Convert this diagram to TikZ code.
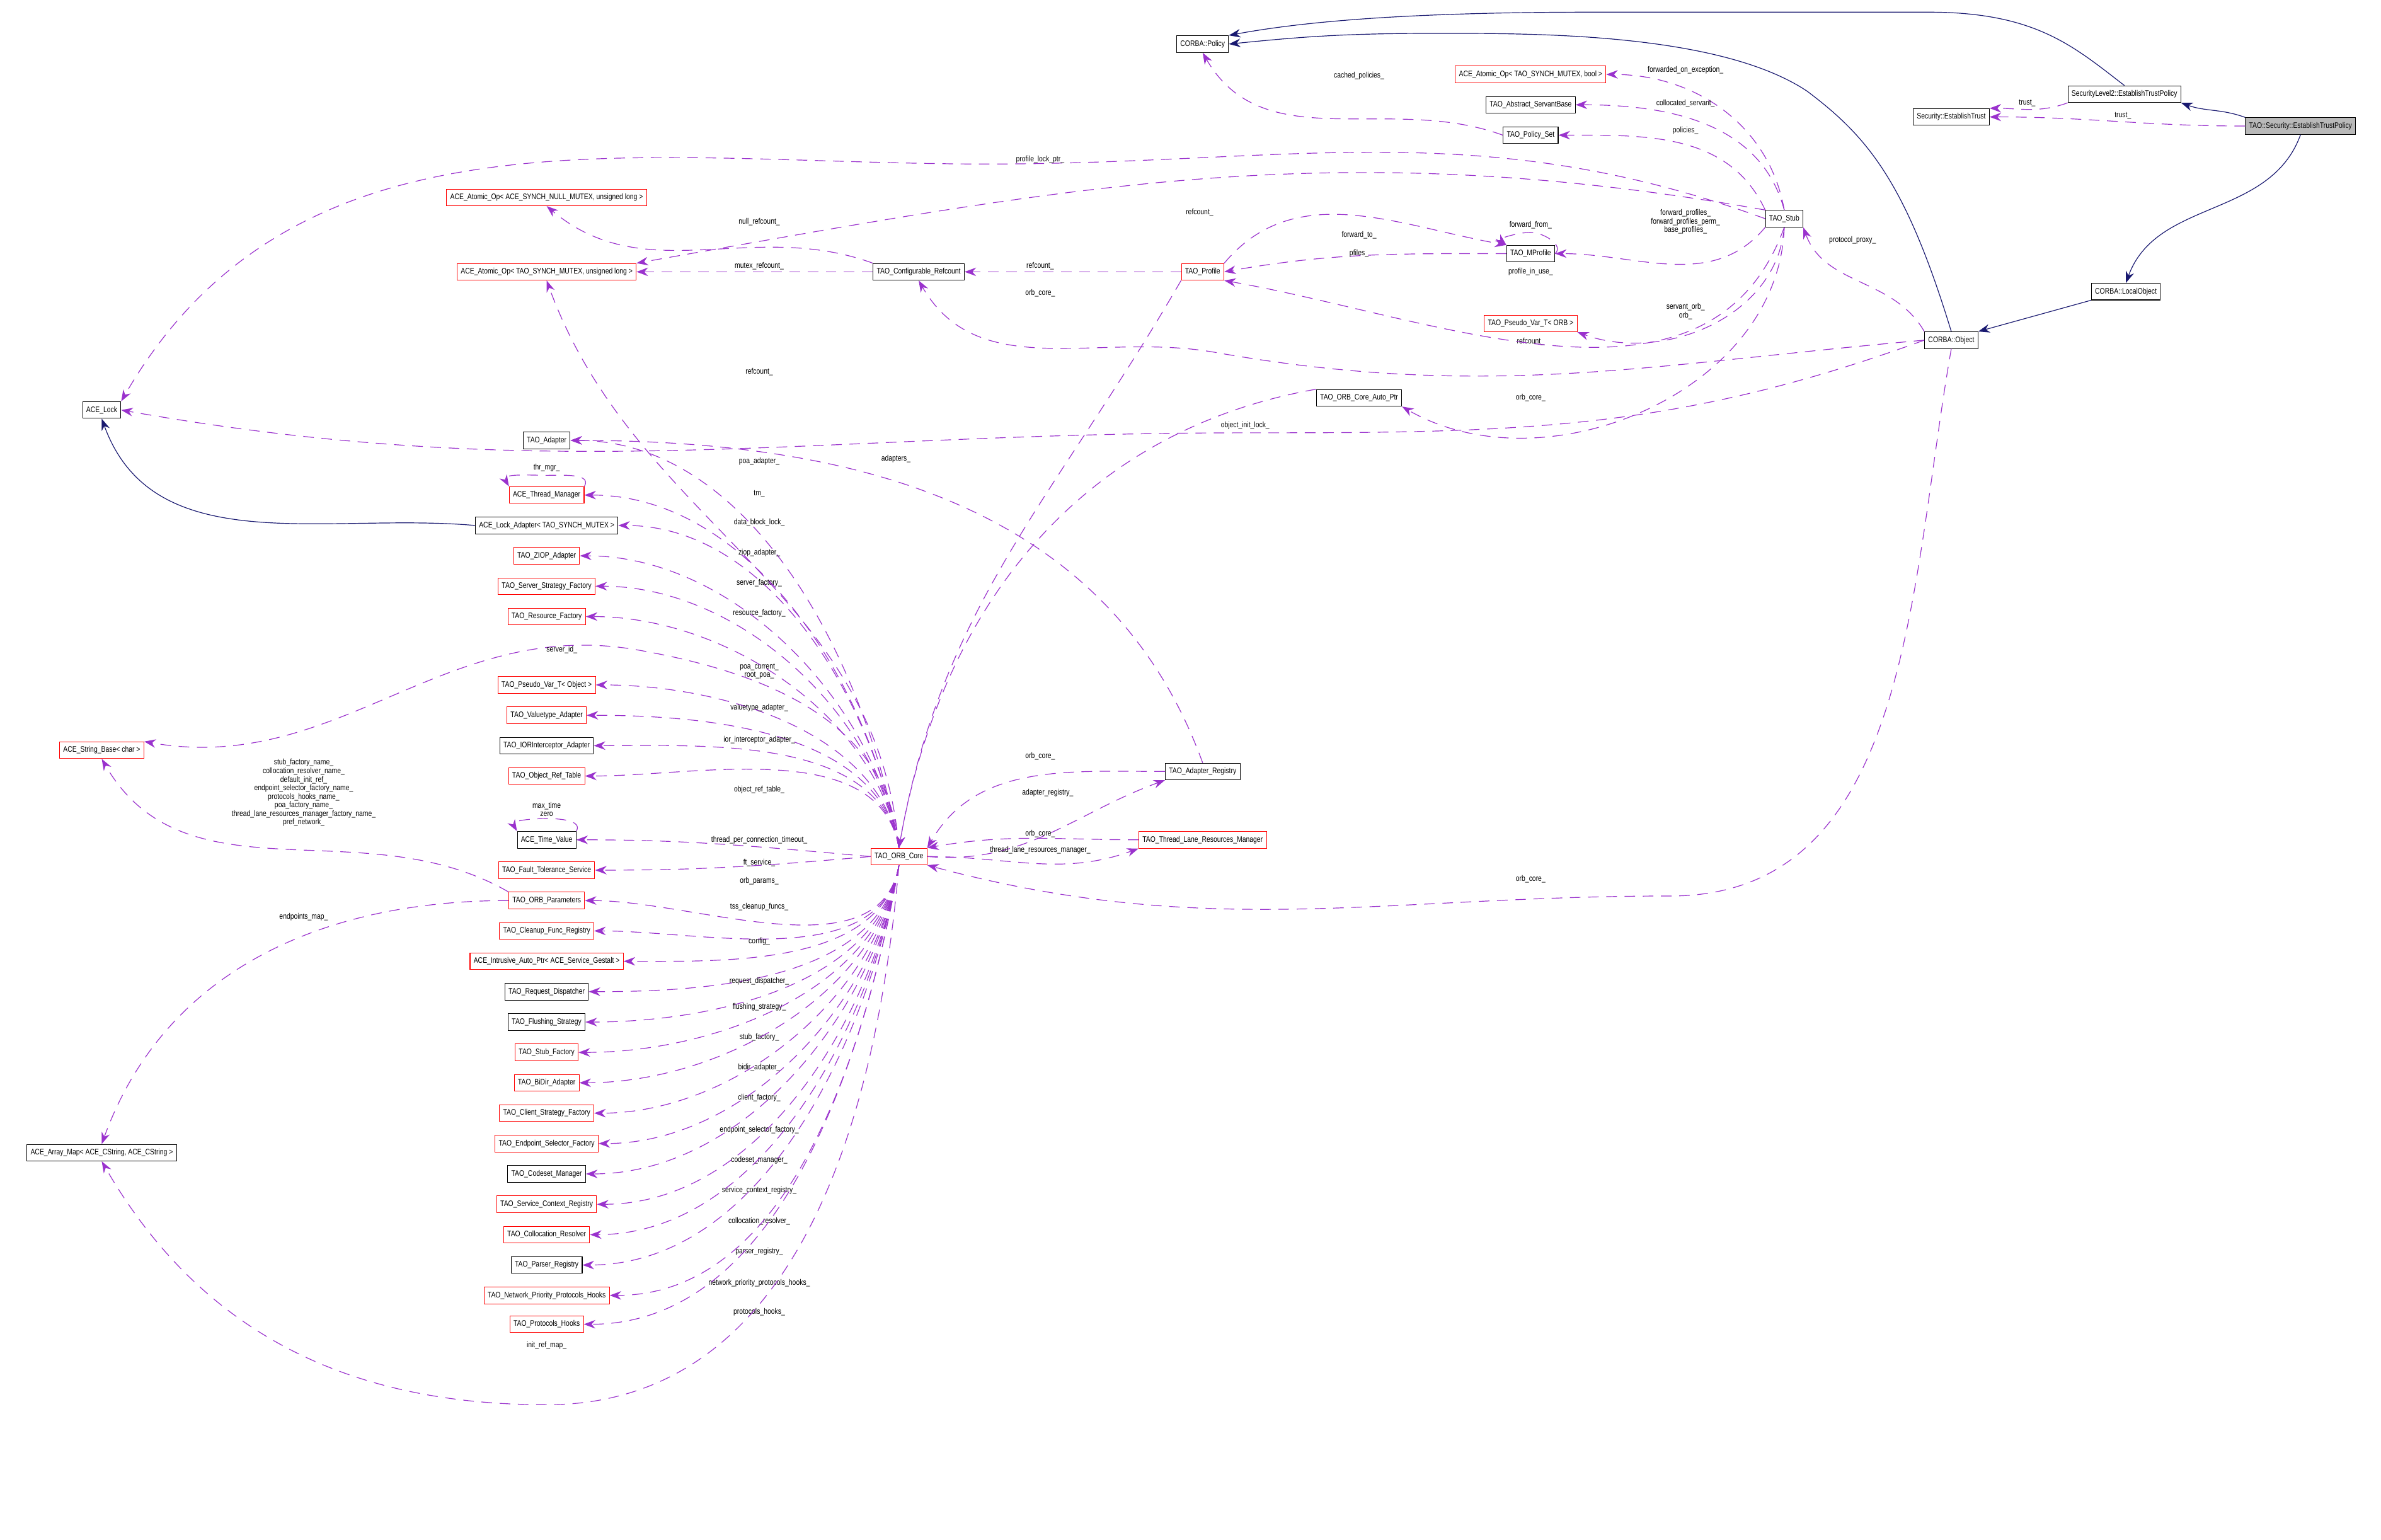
\documentclass[tikz,border=0pt]{standalone}
\usepackage{fontspec}
\setmainfont[FakeStretch=0.82]{Liberation Sans}
\usetikzlibrary{arrows.meta}
\definecolor{edgepurple}{HTML}{9A32CD}
\definecolor{inhblue}{HTML}{191970}
\tikzset{
  cls/.style={draw, line width=0.3pt, fill=white, minimum height=0.275cm, inner xsep=0.06cm, inner ysep=0.03cm, font=\fontsize{3.75}{4}\selectfont},
  redcls/.style={cls, draw=red},
  focuscls/.style={cls, fill=gray!55},
  member/.style={draw=edgepurple, dash pattern=on 0.175cm off 0.125cm, line width=0.35pt, -{Stealth[length=0.19cm,width=0.14cm]}},
  inherit/.style={draw=inhblue, line width=0.35pt, -{Stealth[length=0.19cm,width=0.14cm]}},
  lbl/.style={font=\fontsize{3.75}{4}\selectfont, align=center, inner sep=0.3pt},
}
\begin{document}
\begin{tikzpicture}[x=0.025cm,y=-0.025cm]
    \useasboundingbox (0,0) rectangle (1568,1014);

    % right part
    \node[cls] (policy) at (792,29) {CORBA::Policy};
    \node[redcls] (atomicbool) at (1008,49) {ACE\_Atomic\_Op< TAO\_SYNCH\_MUTEX, bool >};
    \node[cls] (servantbase) at (1008,69) {TAO\_Abstract\_ServantBase};
    \node[cls] (policyset) at (1008,89) {TAO\_Policy\_Set};
    \node[cls] (sl2trust) at (1399,62) {SecurityLevel2::EstablishTrustPolicy};
    \node[cls] (sectrust) at (1285,77) {Security::EstablishTrust};
    \node[focuscls] (taotrust) at (1515,83) {TAO::Security::EstablishTrustPolicy};
    \node[cls] (stub) at (1175,144) {TAO\_Stub};
    \node[cls] (mprofile) at (1008,167) {TAO\_MProfile};
    \node[redcls] (profile) at (792,179) {TAO\_Profile};
    \node[cls] (confref) at (605,179) {TAO\_Configurable\_Refcount};
    \node[redcls] (atomicnull) at (360,130) {ACE\_Atomic\_Op< ACE\_SYNCH\_NULL\_MUTEX, unsigned long >};
    \node[redcls] (atomiculong) at (360,179) {ACE\_Atomic\_Op< TAO\_SYNCH\_MUTEX, unsigned long >};
    \node[cls] (localobj) at (1400,192) {CORBA::LocalObject};
    \node[cls] (object) at (1285,224) {CORBA::Object};
    \node[redcls] (varorb) at (1008,213) {TAO\_Pseudo\_Var\_T< ORB >};
    \node[cls] (autoptr) at (895,262) {TAO\_ORB\_Core\_Auto\_Ptr};
    \node[cls] (acelock) at (67,270) {ACE\_Lock};

    % left column
    \node[cls] (adapter) at (360,290) {TAO\_Adapter};
    \node[redcls] (thrmgr) at (360,326) {ACE\_Thread\_Manager};
    \node[cls] (lockadapter) at (360,346) {ACE\_Lock\_Adapter< TAO\_SYNCH\_MUTEX >};
    \node[redcls] (ziop) at (360,366) {TAO\_ZIOP\_Adapter};
    \node[redcls] (serverfac) at (360,386) {TAO\_Server\_Strategy\_Factory};
    \node[redcls] (resfac) at (360,406) {TAO\_Resource\_Factory};
    \node[redcls] (varobj) at (360,451) {TAO\_Pseudo\_Var\_T< Object >};
    \node[redcls] (valuetype) at (360,471) {TAO\_Valuetype\_Adapter};
    \node[cls] (iorint) at (360,491) {TAO\_IORInterceptor\_Adapter};
    \node[redcls] (reftable) at (360,511) {TAO\_Object\_Ref\_Table};
    \node[cls] (timevalue) at (360,553) {ACE\_Time\_Value};
    \node[redcls] (ftservice) at (360,573) {TAO\_Fault\_Tolerance\_Service};
    \node[redcls] (orbparams) at (360,593) {TAO\_ORB\_Parameters};
    \node[redcls] (cleanup) at (360,613) {TAO\_Cleanup\_Func\_Registry};
    \node[redcls] (gestalt) at (360,633) {ACE\_Intrusive\_Auto\_Ptr< ACE\_Service\_Gestalt >};
    \node[cls] (dispatcher) at (360,653) {TAO\_Request\_Dispatcher};
    \node[cls] (flushing) at (360,673) {TAO\_Flushing\_Strategy};
    \node[redcls] (stubfac) at (360,693) {TAO\_Stub\_Factory};
    \node[redcls] (bidir) at (360,713) {TAO\_BiDir\_Adapter};
    \node[redcls] (clientfac) at (360,733) {TAO\_Client\_Strategy\_Factory};
    \node[redcls] (endpointfac) at (360,753) {TAO\_Endpoint\_Selector\_Factory};
    \node[cls] (codeset) at (360,773) {TAO\_Codeset\_Manager};
    \node[redcls] (servicectx) at (360,793) {TAO\_Service\_Context\_Registry};
    \node[redcls] (colloc) at (360,813) {TAO\_Collocation\_Resolver};
    \node[cls] (parser) at (360,833) {TAO\_Parser\_Registry};
    \node[redcls] (netprio) at (360,853) {TAO\_Network\_Priority\_Protocols\_Hooks};
    \node[redcls] (prothooks) at (360,872) {TAO\_Protocols\_Hooks};
    \node[redcls] (strbase) at (67,494) {ACE\_String\_Base< char >};
    \node[cls] (arraymap) at (67,759) {ACE\_Array\_Map< ACE\_CString, ACE\_CString >};

    \node[redcls] (orb) at (592,564) {TAO\_ORB\_Core};
    \node[cls] (adreg) at (792,508) {TAO\_Adapter\_Registry};
    \node[redcls] (lanemgr) at (792,553) {TAO\_Thread\_Lane\_Resources\_Manager};

    % inheritance
    \draw[inherit] (taotrust.north west) to[out=160,in=-20] (sl2trust.south east);
    \draw[inherit] (taotrust.south) to[out=-110,in=70] (localobj.north);
    \draw[inherit] (localobj.south west) -- (object.north east);
    \draw[inherit] (sl2trust.north) .. controls (1365,30) and (1340,8) .. (1270,8)
        -- (1050,8) .. controls (950,8) and (870,12) .. (policy.north east);
    \draw[inherit] (object.north) .. controls (1255,120) and (1230,90) .. (1190,60)
        .. controls (1130,20) and (1000,22) .. (940,22) .. controls (880,22) and (850,25) .. (policy.east);
    \draw[inherit] (lockadapter.west) to[out=175,in=-70] (acelock.south);

    % members of ORB core, upper column
    \foreach \target/\text/\ly in {adapter/poa\_adapter\_/304, thrmgr/tm\_/325, lockadapter/data\_block\_lock\_/344,
        ziop/ziop\_adapter\_/364, serverfac/server\_factory\_/384, resfac/resource\_factory\_/404,
        varobj/{poa\_current\_\\root\_poa\_}/442, valuetype/valuetype\_adapter\_/466,
        iorint/ior\_interceptor\_adapter\_/487, reftable/object\_ref\_table\_/520}
      \draw[member] (orb.north) to[out=100,in=0,looseness=0.9] (\target.east) node[lbl] at (500,\ly) {\text};
    \draw[member] (orb.west) to[out=175,in=0] (timevalue.east) node[lbl] at (500,553) {thread\_per\_connection\_timeout\_};
    \draw[member] (orb.west) to[out=185,in=0] (ftservice.east) node[lbl] at (500,568) {ft\_service\_};
    % lower column
    \foreach \target/\text/\ly in {orbparams/orb\_params\_/580, cleanup/tss\_cleanup\_funcs\_/597,
        gestalt/config\_/620, dispatcher/request\_dispatcher\_/646, flushing/flushing\_strategy\_/663,
        stubfac/stub\_factory\_/683, bidir/bidir\_adapter\_/703, clientfac/client\_factory\_/723,
        endpointfac/endpoint\_selector\_factory\_/744, codeset/codeset\_manager\_/764,
        servicectx/service\_context\_registry\_/784, colloc/collocation\_resolver\_/804,
        parser/parser\_registry\_/824, netprio/network\_priority\_protocols\_hooks\_/845,
        prothooks/protocols\_hooks\_/864}
      \draw[member] (orb.south) to[out=-100,in=0,looseness=0.9] (\target.east) node[lbl] at (500,\ly) {\text};
    \draw[member] (orb.north) to[out=95,in=-10] (420,428) node[lbl] at (370,428) {server\_id\_} to[out=170,in=-10] (strbase.north east);
    \draw[member] (orb.south) to[out=-95,in=0] (360,925) node[lbl] at (360,886) {init\_ref\_map\_} to[out=180,in=-60] (arraymap.south);
    \draw[member] (orb.north) to[out=95,in=-70] (atomiculong.south) node[lbl] at (500,245) {refcount\_};

    % ORB core neighbours
    \draw[member] (orb.east) to[out=-5,in=-160] (adreg.south west) node[lbl] at (690,522) {adapter\_registry\_};
    \draw[member] (adreg.west) to[out=180,in=60] (orb.north east) node[lbl] at (685,498) {orb\_core\_};
    \draw[member] (orb.east) to[out=0,in=-160] (lanemgr.south west) node[lbl] at (685,560) {thread\_lane\_resources\_manager\_};
    \draw[member] (lanemgr.west) to[out=180,in=10] (orb.north east) node[lbl] at (685,549) {orb\_core\_};
    \draw[member] (object.south) to[out=-100,in=0] (1100,590) node[lbl] at (1008,579) {orb\_core\_} to[out=180,in=-15] (orb.south east);
    \draw[member] (profile.south west) to[out=-120,in=80] (orb.north) node[lbl] at (685,193) {orb\_core\_};
    \draw[member] (autoptr.north west) to[out=-170,in=80] (orb.north);
    \draw[member] (adreg.north) to[out=110,in=0] (adapter.east) node[lbl] at (590,302) {adapters\_};

    % ORB parameters and loops
    \draw[member] (orbparams.north west) to[out=150,in=-60] (strbase.south) node[lbl] at (200,522) {stub\_factory\_name\_\\collocation\_resolver\_name\_\\default\_init\_ref\_\\endpoint\_selector\_factory\_name\_\\protocols\_hooks\_name\_\\poa\_factory\_name\_\\thread\_lane\_resources\_manager\_factory\_name\_\\pref\_network\_};
    \draw[member] (orbparams.west) to[out=180,in=70] (arraymap.north) node[lbl] at (200,604) {endpoints\_map\_};
    \draw[member] (timevalue.north east) to[out=60,in=0] (360,539) node[lbl] at (360,533) {max\_time\\zero} to[out=180,in=120] (timevalue.north west);
    \draw[member] (thrmgr.north east) to[out=60,in=0] (360,313) node[lbl] at (360,308) {thr\_mgr\_} to[out=180,in=120] (thrmgr.north west);

    % refcounts and locks
    \draw[member] (object.west) to[out=200,in=0] (820,285) node[lbl] at (820,280) {object\_init\_lock\_} to[out=180,in=-10] (acelock.east);
    \draw[member] (stub.west) to[out=160,in=0] (650,108) node[lbl] at (685,105) {profile\_lock\_ptr\_} to[out=180,in=60] (acelock.north east);
    \draw[member] (stub.north west) to[out=170,in=10] (atomiculong.north east) node[lbl] at (790,140) {refcount\_};
    \draw[member] (confref.north west) to[out=160,in=-40] (atomicnull.south) node[lbl] at (500,146) {null\_refcount\_};
    \draw[member] (confref.west) -- (atomiculong.east) node[lbl] at (500,175) {mutex\_refcount\_};
    \draw[member] (profile.west) -- (confref.east) node[lbl] at (685,175) {refcount\_};
    \draw[member] (object.west) to[out=185,in=-10] (800,232) node[lbl] at (1008,225) {refcount\_} to[out=170,in=-60] (confref.south);

    % stub members
    \draw[member] (mprofile.west) to[out=180,in=10] (profile.east) node[lbl] at (895,167) {pfiles\_};
    \draw[member] (profile.north east) to[out=50,in=170] (mprofile.north west) node[lbl] at (895,155) {forward\_to\_};
    \draw[member] (mprofile.east) to[out=40,in=0] (1008,153) node[lbl] at (1008,148) {forward\_from\_} to[out=180,in=140] (mprofile.north west);
    \draw[member] (stub.south west) to[out=-130,in=0] (mprofile.east) node[lbl] at (1110,146) {forward\_profiles\_\\forward\_profiles\_perm\_\\base\_profiles\_};
    \draw[member] (stub.south) to[out=-110,in=-10] (profile.south east) node[lbl] at (1008,179) {profile\_in\_use\_};
    \draw[member] (stub.south) to[out=-95,in=-20] (varorb.south east) node[lbl] at (1110,205) {servant\_orb\_\\orb\_};
    \draw[member] (stub.south) to[out=-92,in=-30] (autoptr.south east) node[lbl] at (1008,262) {orb\_core\_};
    \draw[member] (stub.north) to[out=100,in=0] (atomicbool.east) node[lbl] at (1110,46) {forwarded\_on\_exception\_};
    \draw[member] (stub.north) to[out=105,in=0] (servantbase.east) node[lbl] at (1110,68) {collocated\_servant\_};
    \draw[member] (stub.north west) to[out=115,in=0] (policyset.east) node[lbl] at (1110,86) {policies\_};
    \draw[member] (policyset.west) to[out=160,in=-60] (policy.south) node[lbl] at (895,50) {cached\_policies\_};
    \draw[member] (object.north west) to[out=120,in=-70] (stub.south east) node[lbl] at (1220,158) {protocol\_proxy\_};
    \draw[member] (sl2trust.south west) to[out=200,in=0] (sectrust.north east) node[lbl] at (1335,68) {trust\_};
    \draw[member] (taotrust.west) to[out=180,in=0] (sectrust.east) node[lbl] at (1398,76) {trust\_};
\end{tikzpicture}
\end{document}
